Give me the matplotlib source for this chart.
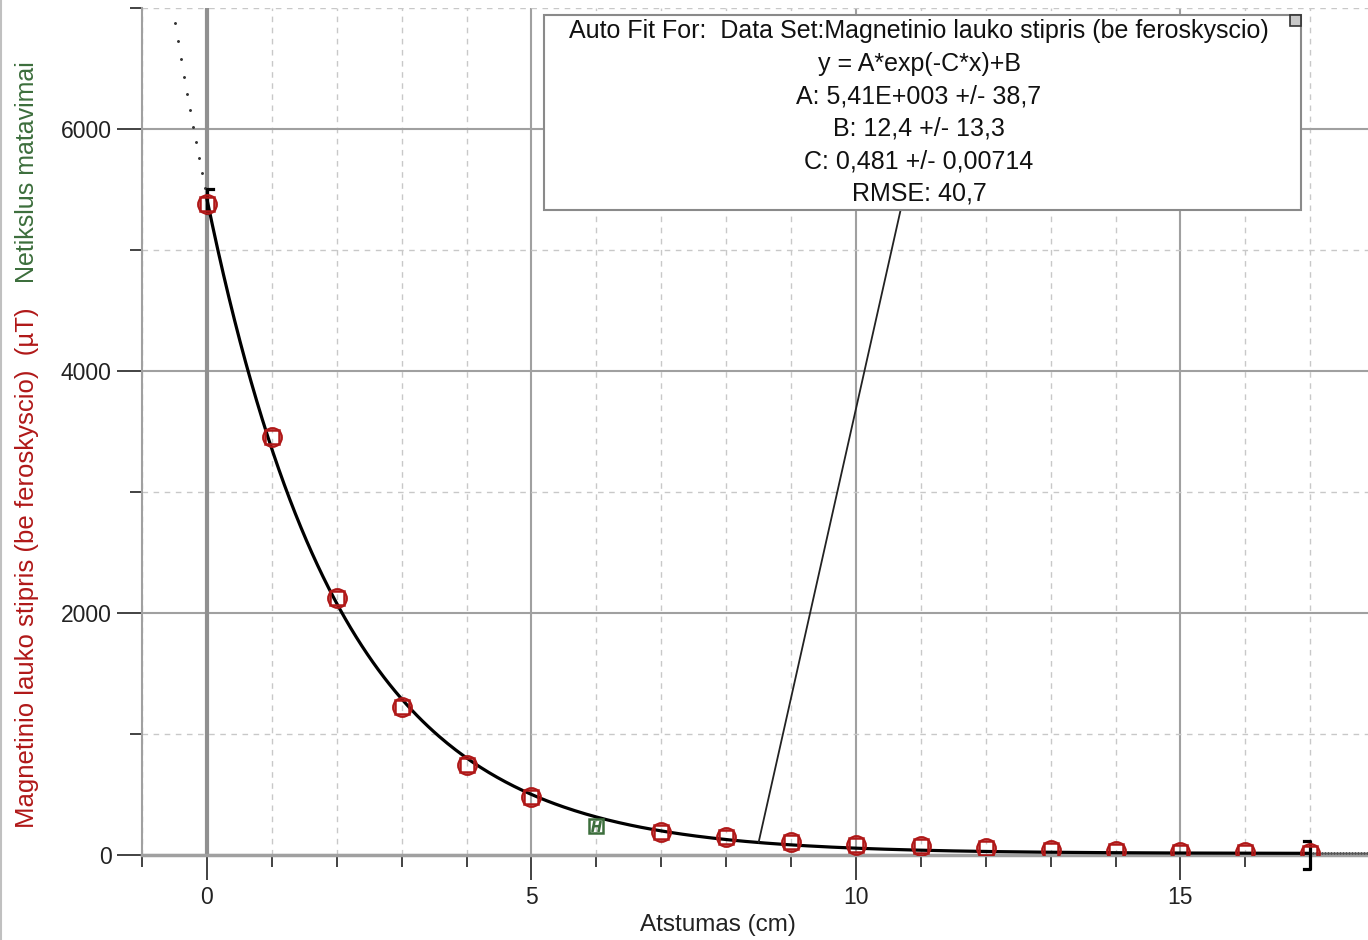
import numpy as np
import matplotlib
matplotlib.use("Agg")
import matplotlib.pyplot as plt
from matplotlib.patches import Rectangle
from matplotlib.ticker import MultipleLocator

plt.rcParams['font.family'] = ['Liberation Sans', 'DejaVu Sans']

# measured data (distance cm, field uT)
atstumas = [0, 1, 2, 3, 4, 5, 7, 8, 9, 10, 11, 12, 13, 14, 15, 16, 17]
laukas = [5380, 3455, 2124, 1223, 744, 479, 190, 149, 107, 83, 74, 58, 41, 33, 25, 25, 17]
# "inaccurate" measurement
netikslus_x = [6]
netikslus_y = [240]

# auto fit parameters y = A*exp(-C*x)+B
fit_A = 5410.0
fit_B = 12.4
fit_C = 0.481
fit_range = [0, 17]
fit_lines = [
    "Auto Fit For:  Data Set:Magnetinio lauko stipris (be feroskyscio)",
    "y = A*exp(-C*x)+B",
    "A: 5,41E+003 +/- 38,7",
    "B: 12,4 +/- 13,3",
    "C: 0,481 +/- 0,00714",
    "RMSE: 40,7",
]
annot_x = 8.5

red = '#b01818'
green = '#3c6e3c'


def fit(x):
    return fit_A * np.exp(-fit_C * np.asarray(x)) + fit_B


fig = plt.figure(figsize=(13.68, 9.40), dpi=100)
ax = fig.add_axes([142 / 1368, 1 - 855 / 940, 1 - 142 / 1368, (855 - 8) / 940])
ax.set_xlim(-1, 17.89)
ax.set_ylim(0, 7000)

# grid
ax.xaxis.set_major_locator(MultipleLocator(5))
ax.xaxis.set_minor_locator(MultipleLocator(1))
ax.yaxis.set_major_locator(MultipleLocator(2000))
ax.yaxis.set_minor_locator(MultipleLocator(1000))
ax.grid(which='major', color='#a0a0a0', lw=1.5, ls='-')
ax.grid(which='minor', color='#c8c8c8', lw=1.0, ls=(0, (4, 4)))
ax.set_axisbelow(True)
ax.axvline(0, color='#909090', lw=3, zorder=1)

for s in ['top', 'right']:
    ax.spines[s].set_visible(False)
ax.spines['left'].set_color('#a0a0a0')
ax.spines['left'].set_linewidth(1.5)
ax.spines['bottom'].set_color('#a0a0a0')
ax.spines['bottom'].set_linewidth(2.5)

ax.tick_params(which='major', length=18, width=1.2, color='#222222', labelsize=16.5,
               labelcolor='#222222', pad=4)
ax.tick_params(which='minor', length=8.5, width=1.2, color='#222222')
ax.yaxis.set_minor_formatter(plt.NullFormatter())

# fitted curve and dotted extension
xf = np.linspace(fit_range[0], fit_range[1], 400)
ax.plot(xf, fit(xf), color='black', lw=2.3, zorder=4)
step = 0.046
xl = np.arange(-1, fit_range[0], step)
xr = np.arange(fit_range[1], 17.9, step)
ax.plot(xl, fit(xl), ls='none', marker='.', ms=2.2, color='#333333', zorder=3)
ax.plot(xr, fit(xr), ls='none', marker='.', ms=2.2, color='#555555', zorder=3)

# fit range brackets
b = 0.1
y0 = fit(fit_range[0])
ax.plot([fit_range[0] + b, fit_range[0], fit_range[0]], [y0 + 80, y0 + 80, y0 - 120],
        color='black', lw=2.3, zorder=5)
y1 = fit(fit_range[1])
ax.plot([fit_range[1] - b, fit_range[1], fit_range[1], fit_range[1] - b],
        [y1 + 100, y1 + 100, y1 - 130, y1 - 130], color='black', lw=2.3, zorder=5, clip_on=False)

# data points
ax.plot(atstumas, laukas, ls='none', marker='s', ms=10.5, mfc='none', mec=red, mew=1.8, zorder=6)
ax.plot(atstumas, laukas, ls='none', marker='o', ms=13.5, mfc='none', mec=red, mew=1.5, zorder=6)
ax.plot(netikslus_x, netikslus_y, ls='none', marker='s', ms=10.5, mfc='none', mec=green, mew=1.8, zorder=6)
ax.plot(netikslus_x, netikslus_y, ls='none', marker='$H$', ms=7, color=green, zorder=6)

# fit info box
bx0, bx1 = (544 - 142) / 1226, (1301 - 142) / 1226
by0, by1 = (855 - 210) / 847, (855 - 15) / 847
box = Rectangle((bx0, by0), bx1 - bx0, by1 - by0, transform=ax.transAxes,
                facecolor='white', edgecolor='#8a8a8a', lw=1.5, zorder=8)
ax.add_patch(box)
sq = 11 / 1226
ax.add_patch(Rectangle((bx1 - sq, by1 - 11 / 847), sq, 11 / 847, transform=ax.transAxes,
                       facecolor='#c8c8c8', edgecolor='#333333', lw=1.2, zorder=9))
tx = (919 - 142) / 1226
for i, line in enumerate(fit_lines):
    ty = (855 - 31 - 32.6 * i) / 847
    ax.text(tx, ty, line, transform=ax.transAxes, ha='center', va='center',
            fontsize=18, color='#111111', zorder=9)

ax.annotate('', xy=(annot_x, fit(annot_x)), xycoords='data',
            xytext=((bx0 + bx1) / 2, (by0 + by1) / 2), textcoords='axes fraction',
            arrowprops=dict(arrowstyle='-', color='#222222', lw=1.3, patchA=box,
                            shrinkA=0, shrinkB=0), zorder=7)

# labels
ax.set_xlabel('Atstumas (cm)', fontsize=17.5, color='#222222', va='center')
ax.xaxis.set_label_coords((718 - 142) / 1226, -(925 - 855) / 847)
fig.text(27 / 1368, 1 - 828 / 940, 'Magnetinio lauko stipris (be feroskyscio)  (\u00b5T)',
         rotation=90, ha='center', va='bottom', fontsize=18.5, color=red)
fig.text(27 / 1368, 1 - 283 / 940, 'Netikslus matavimai',
         rotation=90, ha='center', va='bottom', fontsize=18, color=green)

# window border on the left
fig.add_artist(plt.Line2D([1 / 1368, 1 / 1368], [0, 1], color='#c0c0c0', lw=1.5))

fig.savefig('out.png', dpi=100)
